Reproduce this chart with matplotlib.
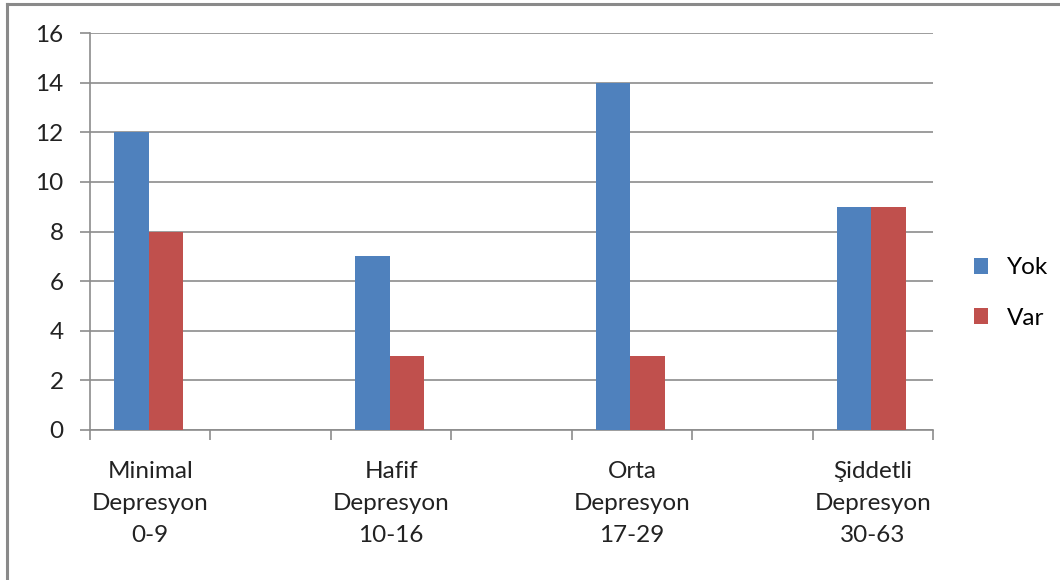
import matplotlib
matplotlib.use("Agg")
import matplotlib.pyplot as plt
from matplotlib.lines import Line2D
from matplotlib.patches import Patch

categories = ["Minimal\nDepresyon\n0-9", "Hafif\nDepresyon\n10-16",
              "Orta\nDepresyon\n17-29", "Şiddetli\nDepresyon\n30-63"]
yok = [12, 7, 14, 9]
var = [8, 3, 3, 9]
series_names = ["Yok", "Var"]
colors = ["#4F81BD", "#C0504D"]
y_ticks = [0, 2, 4, 6, 8, 10, 12, 14, 16]

plt.rcParams["font.family"] = ["Lato", "DejaVu Sans"]
FS = 17.5

fig = plt.figure(figsize=(10.6, 5.8), dpi=100)
ax = fig.add_axes([90 / 1060, 1 - 430 / 580, 843 / 1060, 397 / 580])

# categories sit on every other slot, leaving empty slots between groups
pos = [2 * i for i in range(len(categories))]
w = 0.285
off = -0.012
ax.bar([p - w / 2 + off for p in pos], yok, width=w, color=colors[0], zorder=3)
ax.bar([p + w / 2 + off for p in pos], var, width=w, color=colors[1], zorder=3)

ax.set_xlim(-0.5, 2 * len(categories) - 1.5)
ax.set_ylim(0, 16)
ax.set_yticks(y_ticks)
ax.set_yticklabels([str(t) for t in y_ticks], fontsize=FS, color="#222222")
ax.yaxis.grid(True, color="#8c8c8c", linewidth=1.2, zorder=0)

ax.set_xticks(pos)
ax.set_xticklabels(categories, fontsize=FS, color="#222222", linespacing=1.65)
ax.set_xticks([x - 0.5 for x in range(2 * len(categories))], minor=True)
ax.tick_params(axis="x", which="major", length=0, pad=22)
ax.tick_params(axis="x", which="minor", length=7, width=1.2, color="#8c8c8c", direction="out")
ax.tick_params(axis="y", length=7, width=1.2, color="#8c8c8c", pad=12)

for s in ["top", "right"]:
    ax.spines[s].set_visible(False)
for s in ["left", "bottom"]:
    ax.spines[s].set_color("#8c8c8c")
    ax.spines[s].set_linewidth(1.2)

handles = [Patch(facecolor=c, edgecolor="none") for c in colors]
fig.legend(handles, series_names, loc="center left", bbox_to_anchor=(952 / 1060, 1 - 293 / 580),
           frameon=False, fontsize=FS, handlelength=0.6, handleheight=0.6,
           labelspacing=1.2, handletextpad=0.75)

# outer chart border
fig.add_artist(Line2D([7 / 1060, 7 / 1060], [0, 1 - 4 / 580], color="#8a8a8a", linewidth=2.2,
                      transform=fig.transFigure))
fig.add_artist(Line2D([7 / 1060, 1], [1 - 4 / 580, 1 - 4 / 580], color="#8a8a8a", linewidth=2.2,
                      transform=fig.transFigure))

fig.savefig("out.png", dpi=100)
